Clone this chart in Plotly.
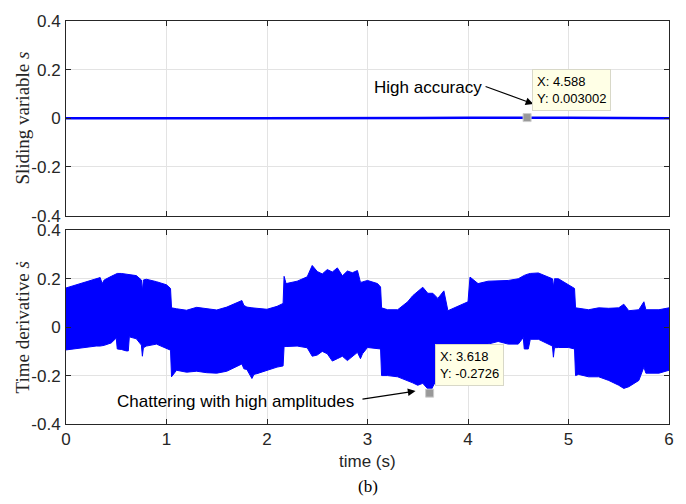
import plotly.graph_objects as go
from plotly.subplots import make_subplots

# ---------------- data ----------------
# top: sliding variable s
t_s = [0.0, 0.5, 1.0, 1.2, 1.6, 2.0, 2.5, 3.0, 3.5, 4.0, 4.588, 5.0, 5.5, 6.0]
s_vals = [0.0, 0.0, -0.001, -0.002, -0.002, -0.001, 0.0, 0.0, 0.001, 0.002, 0.003002, 0.002, 0.001, 0.0]

# bottom: envelope of the chattering band of s-dot
t_env = [0.00, 0.10, 0.20, 0.30, 0.34, 0.36, 0.38, 0.45, 0.50, 0.51, 0.55, 0.60, 0.62, 0.63,
         0.70, 0.75, 0.76, 0.77, 0.80, 0.90, 1.00, 1.04, 1.05, 1.10, 1.20, 1.30, 1.40, 1.50,
         1.60, 1.70, 1.75, 1.77, 1.80, 1.85, 1.87, 1.90, 2.00, 2.10, 2.16, 2.17, 2.19, 2.30,
         2.40, 2.45, 2.50, 2.55, 2.60, 2.65, 2.70, 2.75, 2.80, 2.85, 2.90, 2.93, 2.95, 3.00,
         3.10, 3.13, 3.14, 3.20, 3.30, 3.40, 3.45, 3.50, 3.55, 3.60, 3.618, 3.65, 3.70, 3.76,
         3.80, 3.90, 4.00, 4.02, 4.10, 4.20, 4.30, 4.40, 4.50, 4.55, 4.56, 4.60, 4.62, 4.70,
         4.80, 4.84, 4.85, 4.86, 4.90, 5.00, 5.06, 5.07, 5.10, 5.20, 5.30, 5.40, 5.50, 5.55,
         5.60, 5.70, 5.75, 5.77, 5.90, 6.00]
upper = [0.162, 0.175, 0.188, 0.200, 0.205, 0.180, 0.195, 0.210, 0.222, 0.222, 0.222, 0.220, 0.218, 0.218,
         0.213, 0.195, 0.150, 0.195, 0.198, 0.188, 0.175, 0.160, 0.080, 0.076, 0.070, 0.082, 0.078, 0.071,
         0.083, 0.100, 0.110, 0.090, 0.083, 0.080, 0.080, 0.078, 0.074, 0.086, 0.098, 0.210, 0.180, 0.190,
         0.208, 0.255, 0.230, 0.220, 0.238, 0.228, 0.245, 0.212, 0.232, 0.225, 0.234, 0.185, 0.187, 0.193,
         0.180, 0.166, 0.080, 0.072, 0.072, 0.105, 0.130, 0.146, 0.165, 0.140, 0.140, 0.140, 0.119, 0.150,
         0.068, 0.085, 0.105, 0.207, 0.180, 0.190, 0.193, 0.193, 0.200, 0.214, 0.214, 0.220, 0.222, 0.224,
         0.207, 0.200, 0.166, 0.200, 0.200, 0.173, 0.160, 0.080, 0.078, 0.072, 0.080, 0.078, 0.080, 0.095,
         0.068, 0.072, 0.105, 0.072, 0.072, 0.080]
lower = [-0.094, -0.088, -0.082, -0.078, -0.078, -0.075, -0.075, -0.065, -0.045, -0.090, -0.092, -0.098, -0.098, -0.040,
         -0.048, -0.074, -0.120, -0.085, -0.078, -0.070, -0.088, -0.095, -0.205, -0.178, -0.186, -0.182, -0.188, -0.190,
         -0.182, -0.160, -0.152, -0.172, -0.175, -0.212, -0.195, -0.192, -0.178, -0.165, -0.160, -0.080, -0.080, -0.078,
         -0.085, -0.120, -0.115, -0.100, -0.110, -0.140, -0.130, -0.120, -0.138, -0.120, -0.104, -0.130, -0.110, -0.084,
         -0.090, -0.090, -0.200, -0.200, -0.205, -0.220, -0.230, -0.240, -0.232, -0.255, -0.2726, -0.246, -0.205, -0.180,
         -0.150, -0.138, -0.110, -0.077, -0.081, -0.070, -0.059, -0.070, -0.070, -0.043, -0.090, -0.090, -0.050, -0.050,
         -0.070, -0.078, -0.124, -0.085, -0.084, -0.084, -0.090, -0.200, -0.195, -0.205, -0.205, -0.220, -0.240, -0.253,
         -0.246, -0.220, -0.165, -0.190, -0.190, -0.178]

tip_top = (4.588, 0.003002)
tip_bot = (3.618, -0.2726)

x_ticks = [0, 1, 2, 3, 4, 5, 6]
y_ticks = [-0.4, -0.2, 0, 0.2, 0.4]
y_ticktext = ["-0.4", "-0.2", "0", "0.2", "0.4"]

# ---------------- figure ----------------
BLUE = "#0000ff"
AX = "#262626"
GRID = "#e3e3e3"
SANS = "Liberation Sans, Arial, sans-serif"
SERIF = "Liberation Serif, Times New Roman, serif"

fig = make_subplots(rows=2, cols=1, shared_xaxes=False, vertical_spacing=0.0)

fig.add_trace(go.Scatter(x=t_s, y=s_vals, mode="lines", line=dict(color=BLUE, width=2.5),
                         showlegend=False, hoverinfo="skip"), row=1, col=1)

fig.add_trace(go.Scatter(x=t_env, y=lower, mode="lines", line=dict(color=BLUE, width=1),
                         showlegend=False, hoverinfo="skip"), row=2, col=1)
fig.add_trace(go.Scatter(x=t_env, y=upper, mode="lines", line=dict(color=BLUE, width=1),
                         fill="tonexty", fillcolor=BLUE, showlegend=False, hoverinfo="skip"), row=2, col=1)

# data-tip markers
for (tx, ty), r in [(tip_top, 1), (tip_bot, 2)]:
    fig.add_trace(go.Scatter(x=[tx], y=[ty], mode="markers",
                             marker=dict(symbol="square", size=8, color="#999999",
                                         line=dict(color="#cccccc", width=1)),
                             showlegend=False, hoverinfo="skip"), row=r, col=1)

axis_common = dict(showline=True, linecolor=AX, linewidth=1, mirror="ticks", ticks="inside",
                   ticklen=5, tickcolor=AX, showgrid=True, gridcolor=GRID, gridwidth=1,
                   zeroline=False, tickfont=dict(family=SANS, size=17, color=AX))

fig.update_xaxes(range=[0, 6], tickvals=x_ticks, **axis_common)
fig.update_xaxes(showticklabels=False, row=1, col=1)
fig.update_yaxes(range=[-0.4, 0.4], tickvals=y_ticks, ticktext=y_ticktext, ticklabelstandoff=1,
                 **axis_common)

fig.update_layout(
    width=686, height=504,
    margin=dict(l=66, r=14, t=14, b=80),
    plot_bgcolor="white", paper_bgcolor="white",
    xaxis=dict(domain=[0, 1]),
    yaxis=dict(domain=[0.517, 1.0]),
    yaxis2=dict(domain=[0.0, 0.4805]),
)

ann = []
# axis titles
ann.append(dict(text="Sliding variable <i>s</i>", xref="paper", yref="paper", x=-0.0726, y=0.7585,
                textangle=-90, showarrow=False, font=dict(family=SERIF, size=19, color=AX),
                xanchor="center", yanchor="middle"))
ann.append(dict(text="Time derivative <i>ṡ</i>", xref="paper", yref="paper", x=-0.0726, y=0.240,
                textangle=-90, showarrow=False, font=dict(family=SERIF, size=19, color=AX),
                xanchor="center", yanchor="middle"))
ann.append(dict(text="time (s)", xref="paper", yref="paper", x=0.5, y=-0.093,
                showarrow=False, font=dict(family=SANS, size=17, color=AX),
                xanchor="center", yanchor="middle"))
ann.append(dict(text="(b)", xref="paper", yref="paper", x=0.5, y=-0.156,
                showarrow=False, font=dict(family=SERIF, size=17, color="black"),
                xanchor="center", yanchor="middle"))

# text labels with arrows
ann.append(dict(text="High accuracy", xref="x", yref="y", x=3.60, y=0.128, showarrow=False,
                font=dict(family=SANS, size=17, color="black"), xanchor="center", yanchor="middle"))
ann.append(dict(text="", xref="x", yref="y", x=4.65, y=0.059, axref="x", ayref="y",
                ax=4.16, ay=0.133, showarrow=True, arrowhead=2, arrowsize=1.4, arrowwidth=1.1,
                arrowcolor="black"))
ann.append(dict(text="Chattering with high amplitudes", xref="x2", yref="y2", x=1.686, y=-0.309,
                showarrow=False, font=dict(family=SANS, size=17, color="black"),
                xanchor="center", yanchor="middle"))
ann.append(dict(text="", xref="x2", yref="y2", x=3.478, y=-0.264, axref="x2", ayref="y2",
                ax=2.935, ay=-0.298, showarrow=True, arrowhead=2, arrowsize=1.4, arrowwidth=1.1,
                arrowcolor="black"))

# data tips
for (tx, ty), xr, yr in [(tip_top, "x", "y"), (tip_bot, "x2", "y2")]:
    ann.append(dict(text=f"X: {tx}<br>Y: {ty}", xref=xr, yref=yr, x=tx, y=ty,
                    xanchor="left", yanchor="bottom", xshift=5, yshift=7, showarrow=False,
                    align="left", bgcolor="#ffffe6", bordercolor="#d8d8c8", borderwidth=1,
                    borderpad=4, font=dict(family=SANS, size=13, color="black")))

fig.update_layout(annotations=ann)

fig.write_html("out.html")
